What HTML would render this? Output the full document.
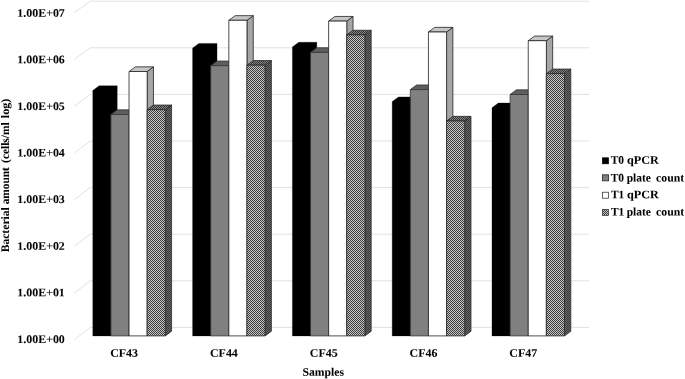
<!DOCTYPE html>
<html><head><meta charset="utf-8"><title>chart</title>
<style>
html,body{margin:0;padding:0;background:#fff;}
body{width:685px;height:379px;overflow:hidden;}
svg{display:block;will-change:transform;}
text{font-family:"Liberation Serif",serif;font-weight:bold;font-size:11.5px;fill:#000;stroke:#000;stroke-width:0.04;}
</style></head><body>
<svg width="685" height="379" viewBox="0 0 685 379">
<defs>
<pattern id="hf" width="2" height="2" patternUnits="userSpaceOnUse"><rect width="2" height="2" fill="#3c3c3c"/><rect x="1" y="0" width="1" height="1" fill="#c8c8c8"/><rect x="0" y="1" width="1" height="1" fill="#c8c8c8"/></pattern>
<pattern id="ht" width="2" height="2" patternUnits="userSpaceOnUse"><rect width="2" height="2" fill="#303030"/><rect x="1" y="0" width="1" height="1" fill="#888888"/><rect x="0" y="1" width="1" height="1" fill="#888888"/></pattern>
<pattern id="hs" width="2" height="2" patternUnits="userSpaceOnUse"><rect width="2" height="2" fill="#3a3a3a"/><rect x="1" y="0" width="1" height="1" fill="#666666"/><rect x="0" y="1" width="1" height="1" fill="#666666"/></pattern>
</defs>
<rect width="685" height="379" fill="#fff"/>

<g fill="none" stroke="#d9d9d9" stroke-width="0.8">
<polyline points="74.30,12.70 90.30,1.20 589.20,1.20"/>
<polyline points="74.30,59.42 90.30,47.80 589.20,47.80"/>
<polyline points="74.30,106.14 90.30,94.40 589.20,94.40"/>
<polyline points="74.30,152.86 90.30,141.00 589.20,141.00"/>
<polyline points="74.30,199.58 90.30,187.60 589.20,187.60"/>
<polyline points="74.30,246.30 90.30,234.20 589.20,234.20"/>
<polyline points="74.30,293.02 90.30,280.80 589.20,280.80"/>
<polyline points="74.30,339.74 90.30,327.40 589.20,327.40"/>
</g>
<g stroke-width="0.8" stroke-linejoin="round">
<polygon points="92.80,90.50 99.10,85.85 117.22,85.85 117.22,331.25 110.92,335.90 92.80,335.90" fill="#000" stroke="#000" stroke-width="0.3"/>
<polygon points="129.04,114.50 135.34,109.85 135.34,331.25 129.04,335.90" fill="#4a4a4a" stroke="#333"/>
<polygon points="110.92,114.50 117.22,109.85 135.34,109.85 129.04,114.50" fill="#5e5e5e" stroke="#333"/>
<rect x="110.92" y="114.50" width="18.12" height="221.40" fill="#808080" stroke="#333"/>
<polygon points="147.16,71.50 153.46,66.85 153.46,331.25 147.16,335.90" fill="#a6a6a6" stroke="#222"/>
<polygon points="129.04,71.50 135.34,66.85 153.46,66.85 147.16,71.50" fill="#c6c6c6" stroke="#222"/>
<rect x="129.04" y="71.50" width="18.12" height="264.40" fill="#fff" stroke="#222"/>
<polygon points="165.28,109.70 171.58,105.05 171.58,331.25 165.28,335.90" fill="url(#hs)" stroke="#2a2a2a"/>
<polygon points="147.16,109.70 153.46,105.05 171.58,105.05 165.28,109.70" fill="url(#ht)" stroke="#2a2a2a"/>
<rect x="147.16" y="109.70" width="18.12" height="226.20" fill="url(#hf)" stroke="#2a2a2a"/>
<polygon points="192.60,48.10 198.90,43.45 217.02,43.45 217.02,331.25 210.72,335.90 192.60,335.90" fill="#000" stroke="#000" stroke-width="0.3"/>
<polygon points="228.84,65.70 235.14,61.05 235.14,331.25 228.84,335.90" fill="#4a4a4a" stroke="#333"/>
<polygon points="210.72,65.70 217.02,61.05 235.14,61.05 228.84,65.70" fill="#5e5e5e" stroke="#333"/>
<rect x="210.72" y="65.70" width="18.12" height="270.20" fill="#808080" stroke="#333"/>
<polygon points="246.96,20.30 253.26,15.65 253.26,331.25 246.96,335.90" fill="#a6a6a6" stroke="#222"/>
<polygon points="228.84,20.30 235.14,15.65 253.26,15.65 246.96,20.30" fill="#c6c6c6" stroke="#222"/>
<rect x="228.84" y="20.30" width="18.12" height="315.60" fill="#fff" stroke="#222"/>
<polygon points="265.08,65.20 271.38,60.55 271.38,331.25 265.08,335.90" fill="url(#hs)" stroke="#2a2a2a"/>
<polygon points="246.96,65.20 253.26,60.55 271.38,60.55 265.08,65.20" fill="url(#ht)" stroke="#2a2a2a"/>
<rect x="246.96" y="65.20" width="18.12" height="270.70" fill="url(#hf)" stroke="#2a2a2a"/>
<polygon points="292.40,46.90 298.70,42.25 316.82,42.25 316.82,331.25 310.52,335.90 292.40,335.90" fill="#000" stroke="#000" stroke-width="0.3"/>
<polygon points="328.64,52.40 334.94,47.75 334.94,331.25 328.64,335.90" fill="#4a4a4a" stroke="#333"/>
<polygon points="310.52,52.40 316.82,47.75 334.94,47.75 328.64,52.40" fill="#5e5e5e" stroke="#333"/>
<rect x="310.52" y="52.40" width="18.12" height="283.50" fill="#808080" stroke="#333"/>
<polygon points="346.76,21.10 353.06,16.45 353.06,331.25 346.76,335.90" fill="#a6a6a6" stroke="#222"/>
<polygon points="328.64,21.10 334.94,16.45 353.06,16.45 346.76,21.10" fill="#c6c6c6" stroke="#222"/>
<rect x="328.64" y="21.10" width="18.12" height="314.80" fill="#fff" stroke="#222"/>
<polygon points="364.88,34.90 371.18,30.25 371.18,331.25 364.88,335.90" fill="url(#hs)" stroke="#2a2a2a"/>
<polygon points="346.76,34.90 353.06,30.25 371.18,30.25 364.88,34.90" fill="url(#ht)" stroke="#2a2a2a"/>
<rect x="346.76" y="34.90" width="18.12" height="301.00" fill="url(#hf)" stroke="#2a2a2a"/>
<polygon points="392.20,101.60 398.50,96.95 416.62,96.95 416.62,331.25 410.32,335.90 392.20,335.90" fill="#000" stroke="#000" stroke-width="0.3"/>
<polygon points="428.44,89.60 434.74,84.95 434.74,331.25 428.44,335.90" fill="#4a4a4a" stroke="#333"/>
<polygon points="410.32,89.60 416.62,84.95 434.74,84.95 428.44,89.60" fill="#5e5e5e" stroke="#333"/>
<rect x="410.32" y="89.60" width="18.12" height="246.30" fill="#808080" stroke="#333"/>
<polygon points="446.56,32.00 452.86,27.35 452.86,331.25 446.56,335.90" fill="#a6a6a6" stroke="#222"/>
<polygon points="428.44,32.00 434.74,27.35 452.86,27.35 446.56,32.00" fill="#c6c6c6" stroke="#222"/>
<rect x="428.44" y="32.00" width="18.12" height="303.90" fill="#fff" stroke="#222"/>
<polygon points="464.68,121.00 470.98,116.35 470.98,331.25 464.68,335.90" fill="url(#hs)" stroke="#2a2a2a"/>
<polygon points="446.56,121.00 452.86,116.35 470.98,116.35 464.68,121.00" fill="url(#ht)" stroke="#2a2a2a"/>
<rect x="446.56" y="121.00" width="18.12" height="214.90" fill="url(#hf)" stroke="#2a2a2a"/>
<polygon points="492.00,107.70 498.30,103.05 516.42,103.05 516.42,331.25 510.12,335.90 492.00,335.90" fill="#000" stroke="#000" stroke-width="0.3"/>
<polygon points="528.24,94.50 534.54,89.85 534.54,331.25 528.24,335.90" fill="#4a4a4a" stroke="#333"/>
<polygon points="510.12,94.50 516.42,89.85 534.54,89.85 528.24,94.50" fill="#5e5e5e" stroke="#333"/>
<rect x="510.12" y="94.50" width="18.12" height="241.40" fill="#808080" stroke="#333"/>
<polygon points="546.36,40.70 552.66,36.05 552.66,331.25 546.36,335.90" fill="#a6a6a6" stroke="#222"/>
<polygon points="528.24,40.70 534.54,36.05 552.66,36.05 546.36,40.70" fill="#c6c6c6" stroke="#222"/>
<rect x="528.24" y="40.70" width="18.12" height="295.20" fill="#fff" stroke="#222"/>
<polygon points="564.48,73.70 570.78,69.05 570.78,331.25 564.48,335.90" fill="url(#hs)" stroke="#2a2a2a"/>
<polygon points="546.36,73.70 552.66,69.05 570.78,69.05 564.48,73.70" fill="url(#ht)" stroke="#2a2a2a"/>
<rect x="546.36" y="73.70" width="18.12" height="262.20" fill="url(#hf)" stroke="#2a2a2a"/>
</g>
<text transform="translate(17.33,16.70) rotate(0.03)" textLength="47.51" lengthAdjust="spacingAndGlyphs">1.00E<tspan font-weight="normal" stroke-width="0.18">+</tspan>07</text>
<text transform="translate(17.33,63.30) rotate(0.03)" textLength="47.51" lengthAdjust="spacingAndGlyphs">1.00E<tspan font-weight="normal" stroke-width="0.18">+</tspan>06</text>
<text transform="translate(17.33,109.90) rotate(0.03)" textLength="47.51" lengthAdjust="spacingAndGlyphs">1.00E<tspan font-weight="normal" stroke-width="0.18">+</tspan>05</text>
<text transform="translate(17.33,156.50) rotate(0.03)" textLength="47.51" lengthAdjust="spacingAndGlyphs">1.00E<tspan font-weight="normal" stroke-width="0.18">+</tspan>04</text>
<text transform="translate(17.33,203.10) rotate(0.03)" textLength="47.51" lengthAdjust="spacingAndGlyphs">1.00E<tspan font-weight="normal" stroke-width="0.18">+</tspan>03</text>
<text transform="translate(17.33,249.70) rotate(0.03)" textLength="47.51" lengthAdjust="spacingAndGlyphs">1.00E<tspan font-weight="normal" stroke-width="0.18">+</tspan>02</text>
<text transform="translate(17.33,296.30) rotate(0.03)" textLength="47.51" lengthAdjust="spacingAndGlyphs">1.00E<tspan font-weight="normal" stroke-width="0.18">+</tspan>01</text>
<text transform="translate(17.33,342.90) rotate(0.03)" textLength="47.51" lengthAdjust="spacingAndGlyphs">1.00E<tspan font-weight="normal" stroke-width="0.18">+</tspan>00</text>
<text transform="translate(110.14,356.70) rotate(0.03)" textLength="27.92" lengthAdjust="spacingAndGlyphs">CF43</text>
<text transform="translate(209.94,356.70) rotate(0.03)" textLength="27.92" lengthAdjust="spacingAndGlyphs">CF44</text>
<text transform="translate(309.74,356.70) rotate(0.03)" textLength="27.92" lengthAdjust="spacingAndGlyphs">CF45</text>
<text transform="translate(409.54,356.70) rotate(0.03)" textLength="27.92" lengthAdjust="spacingAndGlyphs">CF46</text>
<text transform="translate(509.34,356.70) rotate(0.03)" textLength="27.92" lengthAdjust="spacingAndGlyphs">CF47</text>
<text transform="translate(302.54,375.70) rotate(0.03)" textLength="41.45" lengthAdjust="spacingAndGlyphs">Samples</text>
<text transform="translate(610.73,163.80) rotate(0.03)" textLength="13.33" lengthAdjust="spacingAndGlyphs">T0</text>
<text transform="translate(626.93,163.80) rotate(0.03)" textLength="31.83" lengthAdjust="spacingAndGlyphs">qPCR</text>
<text transform="translate(610.73,181.40) rotate(0.03)" textLength="13.33" lengthAdjust="spacingAndGlyphs">T0</text>
<text transform="translate(626.69,181.40) rotate(0.03)" textLength="24.19" lengthAdjust="spacingAndGlyphs">plate</text>
<text transform="translate(656.08,181.40) rotate(0.03)" textLength="28.11" lengthAdjust="spacingAndGlyphs">count</text>
<text transform="translate(610.89,198.20) rotate(0.03)" textLength="13.33" lengthAdjust="spacingAndGlyphs">T1</text>
<text transform="translate(626.93,198.20) rotate(0.03)" textLength="31.83" lengthAdjust="spacingAndGlyphs">qPCR</text>
<text transform="translate(610.89,215.40) rotate(0.03)" textLength="13.33" lengthAdjust="spacingAndGlyphs">T1</text>
<text transform="translate(626.69,215.40) rotate(0.03)" textLength="24.19" lengthAdjust="spacingAndGlyphs">plate</text>
<text transform="translate(656.08,215.40) rotate(0.03)" textLength="28.11" lengthAdjust="spacingAndGlyphs">count</text>
<text transform="translate(9.00,252.34) rotate(-89.97)" textLength="45.13" lengthAdjust="spacingAndGlyphs">Bacterial</text>
<text transform="translate(9.00,204.31) rotate(-89.97)" textLength="37.16" lengthAdjust="spacingAndGlyphs">amount</text>
<text transform="translate(9.00,162.88) rotate(-89.97)" textLength="40.42" lengthAdjust="spacingAndGlyphs">(cells/ml</text>
<text transform="translate(9.00,118.23) rotate(-89.97)" textLength="19.66" lengthAdjust="spacingAndGlyphs">log)</text>
<rect x="602.4" y="157.80" width="6.1" height="6.0" fill="#000" stroke="#000" stroke-width="0.7"/>
<rect x="602.4" y="174.80" width="6.1" height="6.0" fill="#808080" stroke="#333" stroke-width="0.9"/>
<rect x="602.4" y="192.20" width="6.1" height="6.0" fill="#fff" stroke="#222" stroke-width="0.7"/>
<rect x="602.4" y="209.40" width="6.1" height="6.0" fill="url(#hf)" stroke="#2a2a2a" stroke-width="0.7"/>
</svg></body></html>
